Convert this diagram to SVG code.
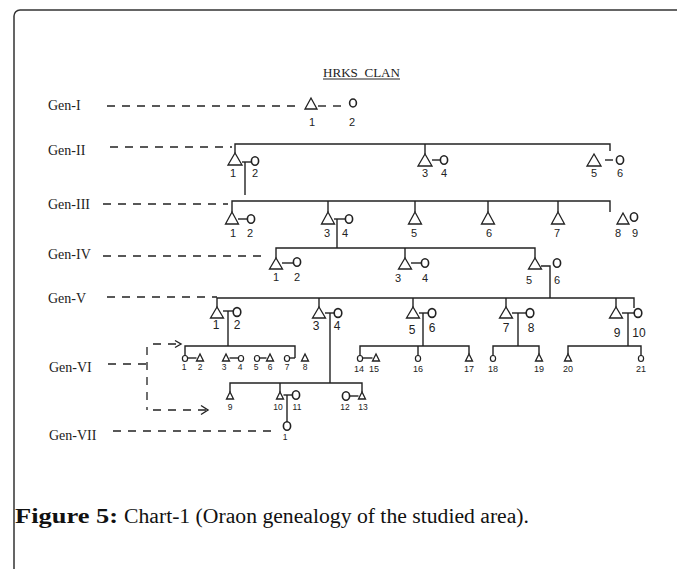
<svg xmlns="http://www.w3.org/2000/svg" width="677" height="569" viewBox="0 0 677 569">
<style>
.ln{stroke:#222;stroke-width:1.4;fill:none}
.ds{stroke:#222;stroke-width:1.3;fill:none;stroke-dasharray:8 7}
.t{fill:none;stroke:#222;stroke-width:1.3;stroke-linejoin:miter}
.c{fill:none;stroke:#222;stroke-width:1.6}
.gen{font-family:"Liberation Serif",serif;font-size:14px;fill:#222}
.n{font-family:"Liberation Sans",Arial,sans-serif;font-size:11px;fill:#222;text-anchor:middle}
.n5{font-family:"Liberation Sans",Arial,sans-serif;font-size:12px;fill:#222;text-anchor:middle}
.s{font-family:"Liberation Sans",Arial,sans-serif;font-size:8.5px;fill:#222;text-anchor:middle}
.s9{font-family:"Liberation Sans",Arial,sans-serif;font-size:9px;fill:#222;text-anchor:middle}
</style>
<rect width="677" height="569" fill="#fff"/>
<path d="M14,569 V16 A6,6 0 0 1 20,10 H677" fill="none" stroke="#333" stroke-width="1.5"/>

<g id="title">
<text x="323" y="76.5" font-family="Liberation Serif,serif" font-size="11.5" fill="#222" textLength="77" lengthAdjust="spacingAndGlyphs" style="white-space:pre">HRKS  CLAN</text>
<line x1="323" y1="79" x2="400" y2="79" stroke="#222" stroke-width="1"/>
</g>

<g id="gen-labels">
<text class="gen" x="48" y="110">Gen-I</text>
<text class="gen" x="48" y="155">Gen-II</text>
<text class="gen" x="48" y="209">Gen-III</text>
<text class="gen" x="48" y="259">Gen-IV</text>
<text class="gen" x="48" y="303">Gen-V</text>
<text class="gen" x="49" y="372">Gen-VI</text>
<text class="gen" x="49" y="440">Gen-VII</text>
</g>

<g id="connectors">
<!-- generation dashed guides -->
<line class="ds" x1="107" y1="106" x2="296" y2="106"/>
<line class="ds" x1="110" y1="147" x2="232" y2="147"/>
<line class="ds" x1="103" y1="204" x2="228" y2="204"/>
<line class="ds" x1="103" y1="256" x2="265" y2="256"/>
<line class="ds" x1="107" y1="297" x2="217" y2="297"/>
<line class="ds" x1="108" y1="364" x2="146" y2="364"/>
<line class="ds" x1="113" y1="431" x2="277" y2="431"/>
<!-- Gen-I marriage dashes -->
<line class="ln" x1="318" y1="106" x2="326" y2="106"/>
<line class="ln" x1="333" y1="106" x2="341" y2="106"/>
<!-- Gen-VI bracket arrows -->
<line class="ds" x1="147" y1="347" x2="147" y2="410"/>
<line class="ds" x1="153" y1="344" x2="180" y2="344"/>
<polyline class="ln" points="175,340.5 181,344 175,347.5"/>
<line class="ds" x1="153" y1="410" x2="206" y2="410"/>
<polyline class="ln" points="201,405.5 208,410 201,414.5"/>

<!-- Gen-II sibling line -->
<polyline class="ln" points="235,153 235,144 610,144 610,151"/>
<line class="ln" x1="425" y1="144" x2="425" y2="154"/>
<line class="ln" x1="242" y1="162" x2="251" y2="162"/>
<line class="ln" x1="245" y1="162" x2="245" y2="195"/>
<line class="ln" x1="432" y1="160" x2="440" y2="160"/>
<line class="ln" x1="605" y1="160" x2="613" y2="160"/>

<!-- Gen-III -->
<polyline class="ln" points="232,212 232,201 610,201 610,212"/>
<line class="ln" x1="328" y1="201" x2="328" y2="212"/>
<line class="ln" x1="415" y1="201" x2="415" y2="212"/>
<line class="ln" x1="488" y1="201" x2="488" y2="212"/>
<line class="ln" x1="558" y1="201" x2="558" y2="212"/>
<line class="ln" x1="238" y1="219" x2="247" y2="219"/>
<line class="ln" x1="334" y1="219" x2="345" y2="219"/>
<line class="ln" x1="337" y1="219" x2="337" y2="248"/>

<!-- Gen-IV -->
<polyline class="ln" points="276,258 276,248 535,248 535,258"/>
<line class="ln" x1="405" y1="248" x2="405" y2="258"/>
<line class="ln" x1="282" y1="263" x2="293" y2="263"/>
<line class="ln" x1="411" y1="263" x2="421" y2="263"/>
<polyline class="ln" points="541,266 550,266 550,298"/>

<!-- Gen-V -->
<polyline class="ln" points="217,307 217,298 634,298 634,308"/>
<line class="ln" x1="319" y1="298" x2="319" y2="307"/>
<line class="ln" x1="413" y1="298" x2="413" y2="307"/>
<line class="ln" x1="506" y1="298" x2="506" y2="307"/>
<line class="ln" x1="616" y1="298" x2="616" y2="307"/>
<line class="ln" x1="223" y1="311" x2="233" y2="311"/>
<line class="ln" x1="228" y1="311" x2="228" y2="346"/>
<line class="ln" x1="325" y1="313" x2="334" y2="313"/>
<line class="ln" x1="330" y1="313" x2="330" y2="383"/>
<line class="ln" x1="419" y1="313" x2="428" y2="313"/>
<line class="ln" x1="423" y1="313" x2="423" y2="346"/>
<line class="ln" x1="512" y1="313" x2="526" y2="313"/>
<line class="ln" x1="518" y1="313" x2="518" y2="346"/>
<line class="ln" x1="622" y1="313" x2="634" y2="313"/>
<line class="ln" x1="628" y1="313" x2="628" y2="346"/>

<!-- Gen-VI lines -->
<polyline class="ln" points="185,356 185,346 295,346 295,358"/>
<line class="ln" x1="188" y1="358" x2="196.5" y2="358"/>
<line class="ln" x1="229.5" y1="358" x2="238.5" y2="358"/>
<line class="ln" x1="260" y1="358" x2="266.5" y2="358"/>
<line class="ln" x1="290" y1="358" x2="295" y2="358"/>

<polyline class="ln" points="230,392 230,383 362,383 362,392"/>
<line class="ln" x1="280" y1="383" x2="280" y2="392"/>
<line class="ln" x1="283.5" y1="395" x2="292" y2="395"/>
<line class="ln" x1="287" y1="395" x2="287" y2="422"/>
<line class="ln" x1="350" y1="396" x2="358.5" y2="396"/>

<polyline class="ln" points="360,356 360,346 469,346 469,354"/>
<line class="ln" x1="418" y1="346" x2="418" y2="356"/>
<line class="ln" x1="363" y1="358" x2="372.5" y2="358"/>

<polyline class="ln" points="493,356 493,346 539,346 539,354"/>
<polyline class="ln" points="568,354 568,346 641,346 641,356"/>
</g>

<!-- Gen-I -->
<g id="I-1"><polygon class="t" points="311,98 305,109 317,109"/><text class="n" x="312" y="126">1</text></g>
<g id="I-2"><ellipse class="c" cx="353" cy="103" rx="3.4" ry="4"/><text class="n" x="352" y="126">2</text></g>

<!-- Gen-II -->
<g id="II-1"><polygon class="t" points="235,153 228,165 242,165"/><text class="n" x="233" y="177">1</text></g>
<g id="II-2"><ellipse class="c" cx="255" cy="161" rx="3.6" ry="4.2"/><text class="n" x="255" y="177">2</text></g>
<g id="II-3"><polygon class="t" points="425,154 418,166 432,166"/><text class="n" x="425" y="177">3</text></g>
<g id="II-4"><ellipse class="c" cx="444" cy="160" rx="3.6" ry="4.2"/><text class="n" x="444" y="177">4</text></g>
<g id="II-5"><polygon class="t" points="594,154 587,166 601,166"/><text class="n" x="594" y="177">5</text></g>
<g id="II-6"><ellipse class="c" cx="620" cy="160" rx="3.6" ry="4.2"/><text class="n" x="620" y="177">6</text></g>

<!-- Gen-III -->
<g id="III-1"><polygon class="t" points="232,212 225.5,224 238.5,224"/><text class="n" x="233" y="237">1</text></g>
<g id="III-2"><ellipse class="c" cx="251" cy="219" rx="3.6" ry="4.2"/><text class="n" x="250" y="237">2</text></g>
<g id="III-3"><polygon class="t" points="328,212 321.5,224 334.5,224"/><text class="n" x="327" y="237">3</text></g>
<g id="III-4"><ellipse class="c" cx="349" cy="219" rx="3.6" ry="4.2"/><text class="n" x="345" y="237">4</text></g>
<g id="III-5"><polygon class="t" points="415,212 408.5,224 421.5,224"/><text class="n" x="414" y="237">5</text></g>
<g id="III-6"><polygon class="t" points="488,212 481.5,224 494.5,224"/><text class="n" x="489" y="237">6</text></g>
<g id="III-7"><polygon class="t" points="558,212 551.5,224 564.5,224"/><text class="n" x="557" y="237">7</text></g>
<g id="III-8"><polygon class="t" points="623,213 617,224 629,224"/><text class="n" x="618" y="237">8</text></g>
<g id="III-9"><ellipse class="c" cx="634" cy="217" rx="3.6" ry="4.2"/><text class="n" x="635" y="237">9</text></g>

<!-- Gen-IV -->
<g id="IV-1"><polygon class="t" points="276,258 269.5,269 282.5,269"/><text class="n" x="276" y="281">1</text></g>
<g id="IV-2"><ellipse class="c" cx="297" cy="262" rx="3.6" ry="4.2"/><text class="n" x="297" y="281">2</text></g>
<g id="IV-3"><polygon class="t" points="405,258 398.5,269 411.5,269"/><text class="n" x="398" y="282">3</text></g>
<g id="IV-4"><ellipse class="c" cx="425" cy="263" rx="3.6" ry="4.2"/><text class="n" x="425" y="282">4</text></g>
<g id="IV-5"><polygon class="t" points="535,258 528.5,269 541.5,269"/><text class="n" x="529" y="284">5</text></g>
<g id="IV-6"><ellipse class="c" cx="557" cy="263" rx="3.6" ry="4.2"/><text class="n" x="557" y="284">6</text></g>

<!-- Gen-V -->
<g id="V-1"><polygon class="t" points="217,307 210.5,318 223.5,318"/><text class="n5" x="216" y="329">1</text></g>
<g id="V-2"><ellipse class="c" cx="237" cy="312" rx="3.8" ry="4.4"/><text class="n5" x="237" y="329">2</text></g>
<g id="V-3"><polygon class="t" points="319,307 312.5,318 325.5,318"/><text class="n5" x="316" y="330">3</text></g>
<g id="V-4"><ellipse class="c" cx="338" cy="313" rx="3.8" ry="4.4"/><text class="n5" x="337" y="330">4</text></g>
<g id="V-5"><polygon class="t" points="413,307 406.5,318 419.5,318"/><text class="n5" x="412" y="334">5</text></g>
<g id="V-6"><ellipse class="c" cx="432" cy="313" rx="3.8" ry="4.4"/><text class="n5" x="432" y="332">6</text></g>
<g id="V-7"><polygon class="t" points="506,307 499.5,318 512.5,318"/><text class="n5" x="506" y="332">7</text></g>
<g id="V-8"><ellipse class="c" cx="530" cy="313" rx="3.8" ry="4.4"/><text class="n5" x="531" y="332">8</text></g>
<g id="V-9"><polygon class="t" points="616,307 609.5,318 622.5,318"/><text class="n5" x="617" y="337">9</text></g>
<g id="V-10"><ellipse class="c" cx="638" cy="313" rx="3.8" ry="4.4"/><text class="n5" x="639" y="337">10</text></g>

<!-- Gen-VI -->
<g id="VI-1"><ellipse class="c" cx="185" cy="358.5" rx="2.6" ry="3" style="stroke-width:1.2"/><text class="s" x="184" y="370">1</text></g>
<g id="VI-2"><polygon class="t" points="200,354 196.5,361 203.5,361"/><text class="s" x="200" y="370">2</text></g>
<g id="VI-3"><polygon class="t" points="226,354 222.5,361 229.5,361"/><text class="s" x="224" y="370">3</text></g>
<g id="VI-4"><ellipse class="c" cx="241" cy="358.5" rx="2.6" ry="3" style="stroke-width:1.2"/><text class="s" x="240" y="370">4</text></g>
<g id="VI-5"><ellipse class="c" cx="257" cy="358.5" rx="2.6" ry="3" style="stroke-width:1.2"/><text class="s" x="256" y="370">5</text></g>
<g id="VI-6"><polygon class="t" points="270,354 266.5,361 273.5,361"/><text class="s" x="270" y="370">6</text></g>
<g id="VI-7"><ellipse class="c" cx="287" cy="358.5" rx="2.6" ry="3" style="stroke-width:1.2"/><text class="s" x="287" y="370">7</text></g>
<g id="VI-8"><polygon class="t" points="305,354 301.5,361 308.5,361"/><text class="s" x="305" y="370">8</text></g>

<g id="VI-9"><polygon class="t" points="230,392 226.5,399 233.5,399"/><text class="s" x="230" y="410">9</text></g>
<g id="VI-10"><polygon class="t" points="280,392 276.5,399 283.5,399"/><text class="s" x="278" y="410">10</text></g>
<g id="VI-11"><ellipse class="c" cx="296" cy="395" rx="3.6" ry="4.2"/><text class="s" x="297" y="410">11</text></g>
<g id="VI-12"><ellipse class="c" cx="346" cy="396" rx="3.6" ry="4.2"/><text class="s" x="345" y="410">12</text></g>
<g id="VI-13"><polygon class="t" points="362,392 358.5,399 365.5,399"/><text class="s" x="363" y="410">13</text></g>

<g id="VI-14"><ellipse class="c" cx="360" cy="358.5" rx="2.6" ry="3" style="stroke-width:1.2"/><text class="s9" x="359" y="372">14</text></g>
<g id="VI-15"><polygon class="t" points="376,354 372.5,361 379.5,361"/><text class="s9" x="374" y="372">15</text></g>
<g id="VI-16"><ellipse class="c" cx="418" cy="358.5" rx="2.6" ry="3" style="stroke-width:1.2"/><text class="s9" x="418" y="372">16</text></g>
<g id="VI-17"><polygon class="t" points="469,354 465.5,361 472.5,361"/><text class="s9" x="469" y="372">17</text></g>
<g id="VI-18"><ellipse class="c" cx="493" cy="358.5" rx="2.6" ry="3" style="stroke-width:1.2"/><text class="s9" x="493" y="372">18</text></g>
<g id="VI-19"><polygon class="t" points="539,354 535.5,361 542.5,361"/><text class="s9" x="539" y="372">19</text></g>
<g id="VI-20"><polygon class="t" points="568,354 564.5,361 571.5,361"/><text class="s9" x="568" y="372">20</text></g>
<g id="VI-21"><ellipse class="c" cx="641" cy="358.5" rx="2.6" ry="3" style="stroke-width:1.2"/><text class="s9" x="641" y="372">21</text></g>

<!-- Gen-VII -->
<g id="VII-1"><ellipse class="c" cx="287" cy="426" rx="3.6" ry="4.2"/><text class="s" x="285" y="440">1</text></g>

<g id="caption">
<text x="15" y="523" font-family="Liberation Serif,serif" font-size="20" font-weight="bold" fill="#111" textLength="103" lengthAdjust="spacingAndGlyphs">Figure 5:</text>
<text x="124" y="523" font-family="Liberation Serif,serif" font-size="20" fill="#111" textLength="405" lengthAdjust="spacingAndGlyphs">Chart-1 (Oraon genealogy of the studied area).</text>
</g>
</svg>
